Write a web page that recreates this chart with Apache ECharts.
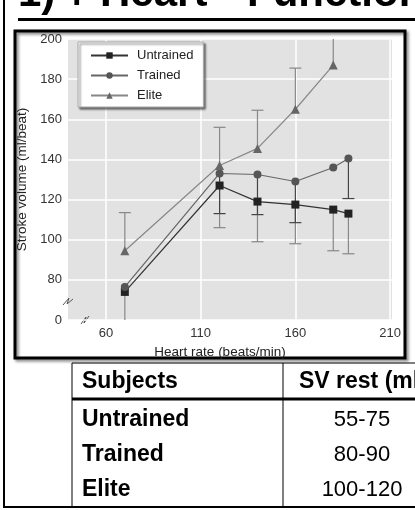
<!DOCTYPE html>
<html>
<head>
<meta charset="utf-8">
<script src="https://cdn.jsdelivr.net/npm/echarts@6/dist/echarts.min.js"></script>
<style>
  html, body { margin: 0; padding: 0; background: #fff; }
  #chart-container { width: 415px; height: 510px; }
</style>
</head>
<body>
<div id="chart-container"></div>
<script>
// heart rate (beats/min) and stroke volume (ml/beat)
var heartRates = [70, 120, 140, 160, 180, 188];
var svUntrained = [74, 127, 119, 117.5, 115, 113];
var svTrained = [76.5, 133, 132.5, 129, 136, 140.5];
var svElite = [94.5, 137, 145.5, 165, 187];

// end of each error bar (null = none drawn)
var errUntrained = [58, 106, 99, 98, 94.5, 93];
var errTrained = [null, 113, 112.5, 108.5, null, 120.5];
var errElite = [113.5, 156, 164.5, 185.5, 205];

var xTicks = [60, 110, 160, 210];
var seriesNames = ["Untrained", "Trained", "Elite"];

// table below the chart
var tableHeader = ["Subjects", "SV rest (ml/beat)"];
var tableSubjects = ["Untrained", "Trained", "Elite"];
var tableSvRest = ["55-75", "80-90", "100-120"];

var FONT = "'Liberation Sans', Arial, sans-serif";

function pairs(ys) {
  return ys.map(function (y, i) { return [heartRates[i], y]; });
}

function barData(ys, ends) {
  var out = [];
  ys.forEach(function (y, i) {
    if (ends[i] != null) out.push([heartRates[i], y, ends[i]]);
  });
  return out;
}

function errorBar(color) {
  return function (params, api) {
    var cs = params.coordSys;
    var p0 = api.coord([api.value(0), api.value(1)]);
    var p1 = api.coord([api.value(0), api.value(2)]);
    var top = cs.y, bottom = cs.y + cs.height;
    var yEnd = Math.min(Math.max(p1[1], top), bottom);
    var kids = [{
      type: "line",
      shape: { x1: p0[0], y1: p0[1], x2: p1[0], y2: yEnd },
      style: { stroke: color, lineWidth: 1.2 },
    }];
    if (p1[1] > top + 1 && p1[1] < bottom - 1) {
      kids.push({
        type: "line",
        shape: { x1: p1[0] - 6, y1: yEnd, x2: p1[0] + 6, y2: yEnd },
        style: { stroke: color, lineWidth: 1.2 },
      });
    }
    return { type: "group", children: kids };
  };
}

var dom = document.getElementById("chart-container");
var myChart = echarts.init(dom, null, { renderer: "canvas" });

// table graphics
var tableGraphics = [
  { type: "line", shape: { x1: 72, y1: 363, x2: 415, y2: 363 }, style: { stroke: "#000", lineWidth: 1 } },
  { type: "line", shape: { x1: 72, y1: 399, x2: 415, y2: 399 }, style: { stroke: "#000", lineWidth: 3 } },
  { type: "line", shape: { x1: 72, y1: 363, x2: 72, y2: 507 }, style: { stroke: "#000", lineWidth: 1 } },
  { type: "line", shape: { x1: 283, y1: 363, x2: 283, y2: 507 }, style: { stroke: "#000", lineWidth: 1 } },
  { type: "text", x: 82, y: 382, style: { text: tableHeader[0], font: "bold 23px " + FONT, fill: "#000", textVerticalAlign: "middle" } },
  { type: "text", x: 299, y: 382, style: { text: tableHeader[1], font: "bold 23px " + FONT, fill: "#000", textVerticalAlign: "middle" } },
];
var rowY = [420, 455, 490];
tableSubjects.forEach(function (s, i) {
  tableGraphics.push({ type: "text", x: 82, y: rowY[i], style: { text: s, font: "bold 23px " + FONT, fill: "#000", textVerticalAlign: "middle" } });
  tableGraphics.push({ type: "text", x: 362, y: rowY[i], style: { text: tableSvRest[i], font: "22px " + FONT, fill: "#000", textAlign: "center", textVerticalAlign: "middle" } });
});

var option = {
  animation: false,
  textStyle: { fontFamily: FONT },
  grid: {
    left: 68,
    right: 23,
    top: 39,
    bottom: 190,
    show: true,
    backgroundColor: "#e2e2e2",
    borderWidth: 0,
  },
  legend: {
    orient: "vertical",
    left: 78,
    top: 42,
    data: seriesNames,
    itemWidth: 37,
    itemHeight: 8,
    itemGap: 7,
    padding: [7, 10, 5, 12],
    backgroundColor: "#fff",
    borderColor: "#aaa",
    borderWidth: 1,
    shadowColor: "rgba(0,0,0,0.55)",
    shadowBlur: 2,
    shadowOffsetX: 2,
    shadowOffsetY: 2,
    textStyle: { fontSize: 13, color: "#222", padding: [0, 0, 0, 4] },
  },
  xAxis: {
    type: "value",
    min: 40,
    max: 211,
    name: "Heart rate (beats/min)",
    nameLocation: "middle",
    nameGap: 23,
    nameTextStyle: { fontSize: 13.5, color: "#222", padding: [0, 20, 0, 0] },
    axisLine: { show: false },
    axisTick: { show: false, customValues: xTicks },
    axisLabel: { customValues: xTicks, fontSize: 13, color: "#333", margin: 7 },
    splitLine: { show: true, lineStyle: { color: "#fff", width: 1.5 } },
  },
  yAxis: {
    type: "value",
    min: 60,
    max: 200,
    interval: 20,
    name: "Stroke volume (ml/beat)",
    nameLocation: "middle",
    nameGap: 32,
    nameTextStyle: { fontSize: 13.5, color: "#222" },
    axisLine: { show: false },
    axisTick: { show: false },
    axisLabel: {
      fontSize: 13,
      color: "#333",
      margin: 6,
      formatter: function (v) { return v === 60 ? "0" : String(v); },
    },
    splitLine: { show: true, lineStyle: { color: "#fff", width: 1.5 } },
  },
  series: [
    { type: "custom", z: 1, silent: true, renderItem: errorBar("#888"), data: barData(svUntrained, errUntrained) },
    { type: "custom", z: 1, silent: true, renderItem: errorBar("#444"), data: barData(svTrained, errTrained) },
    { type: "custom", z: 1, silent: true, renderItem: errorBar("#888"), data: barData(svElite, errElite) },
    {
      name: "Untrained", type: "line", z: 3, data: pairs(svUntrained),
      symbol: "rect", symbolSize: 8,
      itemStyle: { color: "#222" }, lineStyle: { color: "#333", width: 1.2 },
    },
    {
      name: "Trained", type: "line", z: 3, data: pairs(svTrained),
      symbol: "circle", symbolSize: 8,
      itemStyle: { color: "#555" }, lineStyle: { color: "#666", width: 1.2 },
    },
    {
      name: "Elite", type: "line", z: 3, data: pairs(svElite),
      symbol: "triangle", symbolSize: 9,
      itemStyle: { color: "#666" }, lineStyle: { color: "#888", width: 1.2 },
    },
  ],
  graphic: [
    // slide title (top cut off)
    { type: "text", x: 18, y: 15, style: { text: "1)", font: "bold 42px " + FONT, fill: "#000", textVerticalAlign: "bottom" } },
    { type: "text", x: 60, y: 15, style: { text: "\u2191", font: "bold 40px 'DejaVu Sans', sans-serif", fill: "#000", textVerticalAlign: "bottom" } },
    { type: "text", x: 100, y: 15, style: { text: "Heart", font: "bold 42px " + FONT, fill: "#000", textVerticalAlign: "bottom" } },
    { type: "text", x: 247, y: 15, style: { text: "Function", font: "bold 42px " + FONT, fill: "#000", textVerticalAlign: "bottom" } },
    { type: "line", shape: { x1: 18, y1: 19.5, x2: 415, y2: 19.5 }, style: { stroke: "#000", lineWidth: 3 } },
    // page borders
    { type: "line", shape: { x1: 4, y1: 0, x2: 4, y2: 508 }, style: { stroke: "#000", lineWidth: 2 } },
    { type: "line", shape: { x1: 4, y1: 507, x2: 415, y2: 507 }, style: { stroke: "#000", lineWidth: 2 } },
    // chart frame
    {
      type: "rect",
      shape: { x: 15, y: 31, width: 390, height: 327 },
      style: { fill: null, stroke: "#000", lineWidth: 3, shadowBlur: 3, shadowOffsetX: 2, shadowOffsetY: 2, shadowColor: "rgba(0,0,0,0.5)" },
    },
    // axis break marks
    { type: "polyline", shape: { points: [[63, 305], [69, 298], [67, 304], [73, 299]] }, style: { stroke: "#555", lineWidth: 1, fill: null } },
    { type: "polyline", shape: { points: [[81, 324], [86, 317], [84, 323], [89, 316]] }, style: { stroke: "#555", lineWidth: 1, fill: null } },
  ].concat(tableGraphics),
};

myChart.setOption(option);
window.addEventListener("resize", myChart.resize);
</script>
</body>
</html>
